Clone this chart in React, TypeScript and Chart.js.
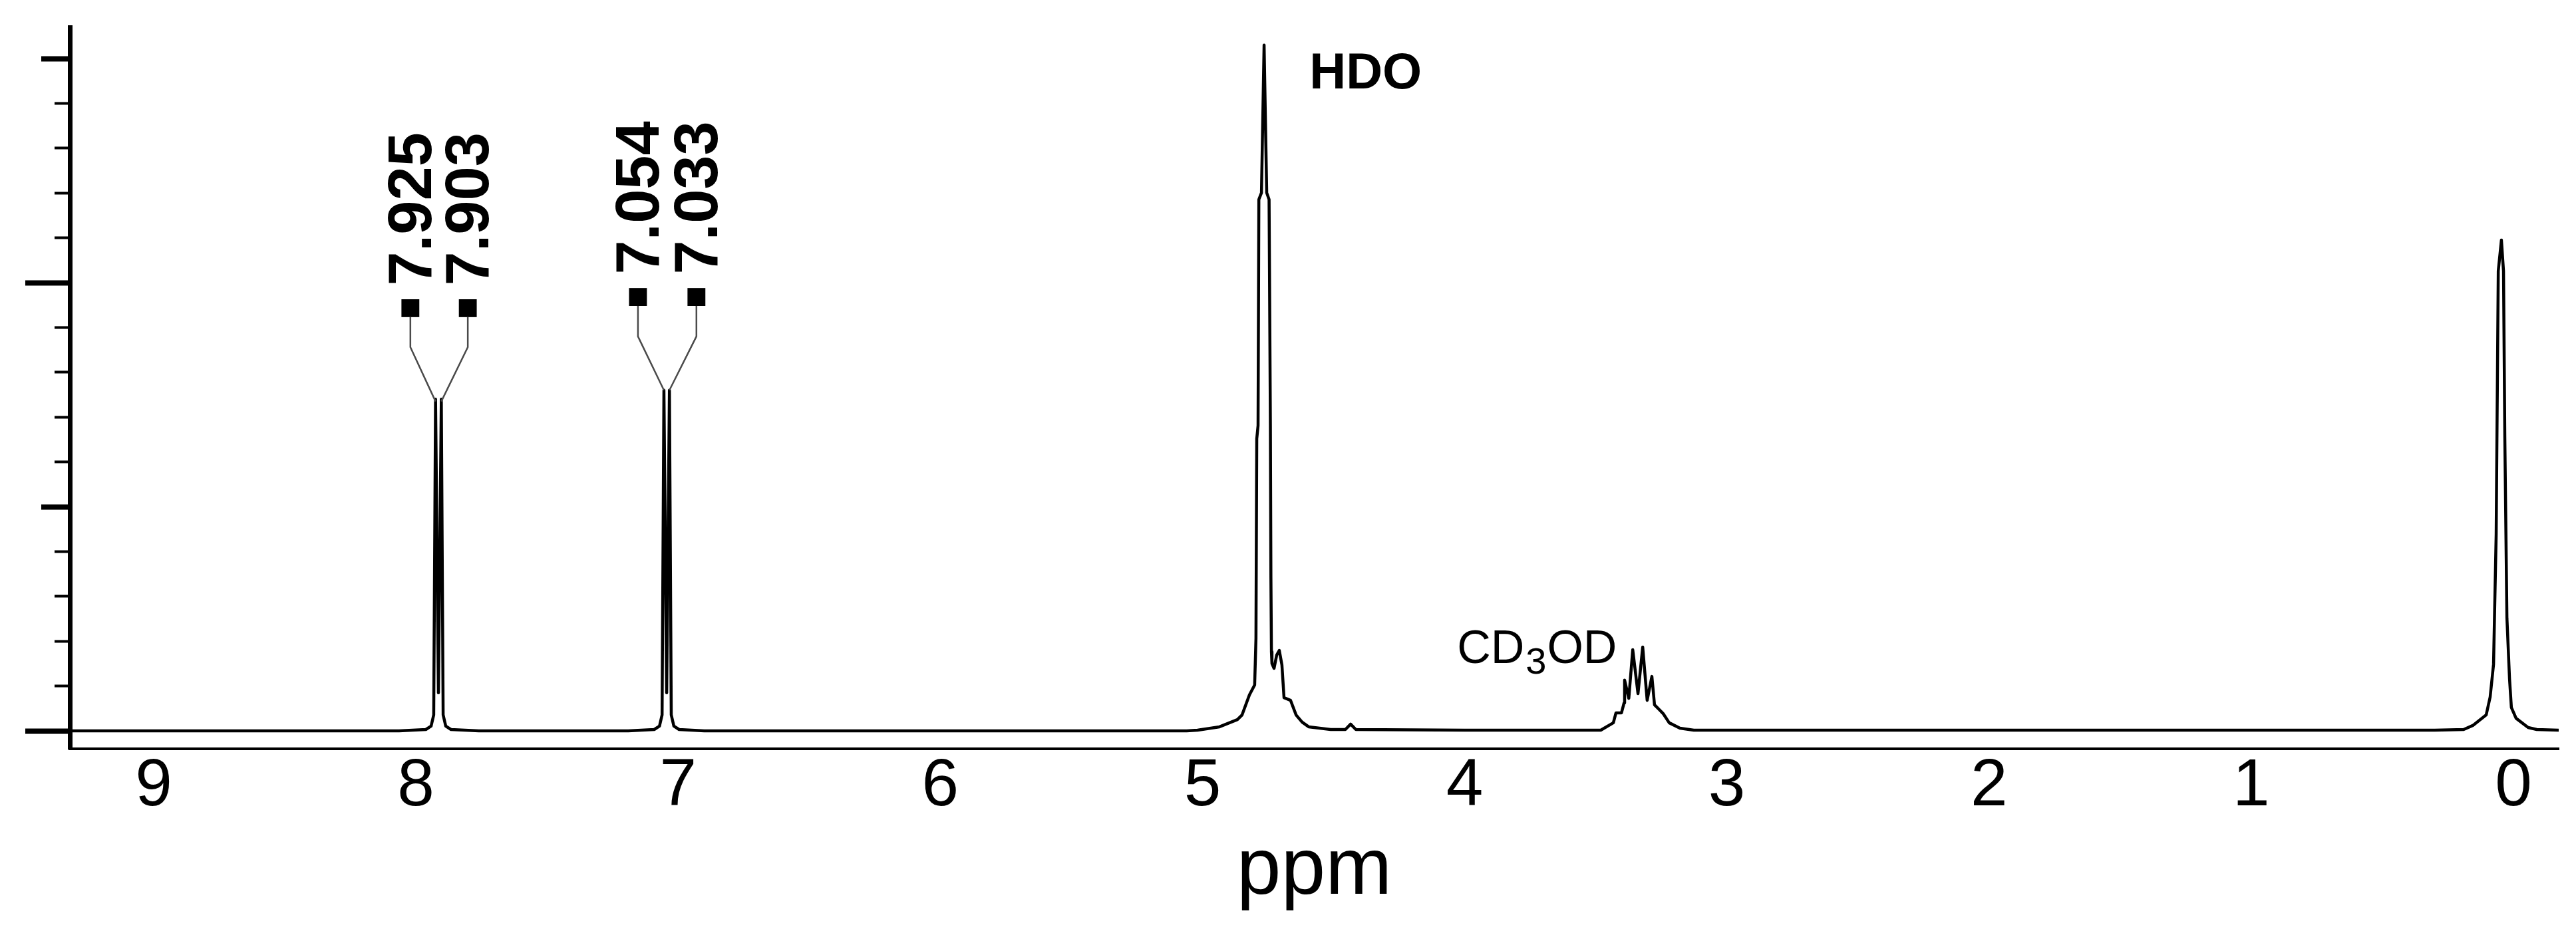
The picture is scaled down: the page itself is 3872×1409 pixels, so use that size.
import React, { useEffect, useRef } from 'react';
import { Chart, registerables } from 'chart.js';

Chart.register(...registerables);

// ---- spectrum (chemical shift in ppm, relative intensity) ----
const specPpm = [
  9.32, 8.064, 7.962, 7.942, 7.932, 7.925, 7.914, 7.903, 7.896, 7.886, 7.866, 7.76,
  7.19, 7.091, 7.071, 7.061, 7.054, 7.0435, 7.033, 7.026, 7.016, 6.996, 6.9,
  5.06, 5.019, 4.935, 4.867, 4.849, 4.821, 4.801, 4.796, 4.793, 4.788, 4.785, 4.775,
  4.765, 4.755, 4.746, 4.741, 4.739, 4.737, 4.735, 4.727, 4.717, 4.707, 4.697,
  4.689, 4.664, 4.643, 4.62, 4.595, 4.511, 4.455, 4.435, 4.415, 4.0,
  3.481, 3.433, 3.423, 3.402, 3.392, 3.39, 3.374, 3.359, 3.339, 3.321, 3.304, 3.286,
  3.276, 3.258, 3.243, 3.22, 3.179, 3.126,
  0.3, 0.19, 0.155, 0.104, 0.089, 0.076, 0.066, 0.058, 0.046, 0.038,
  0.033, 0.025, 0.015, 0.008, -0.01, -0.056, -0.089, -0.18,
];
const specInt = [
  0, 0, 0.006, 0.021, 0.071, 1.48, 0.17, 1.48, 0.071, 0.021, 0.006, 0,
  0, 0.006, 0.021, 0.071, 1.52, 0.17, 1.52, 0.071, 0.021, 0.006, 0,
  0, 0.003, 0.018, 0.05, 0.071, 0.16, 0.205, 0.412, 1.303, 1.362, 2.371, 2.401,
  3.06, 2.401, 2.371, 1.362, 0.68, 0.353, 0.3, 0.279, 0.338, 0.359, 0.294,
  0.148, 0.136, 0.071, 0.039, 0.018, 0.006, 0.006, 0.03, 0.006, 0.003,
  0.003, 0.036, 0.08, 0.08, 0.125, 0.226, 0.145, 0.362, 0.166, 0.374, 0.136, 0.243,
  0.116, 0.095, 0.077, 0.036, 0.012, 0.003,
  0.003, 0.006, 0.024, 0.071, 0.151, 0.297, 0.875, 2.052, 2.19, 2.052,
  1.309, 0.504, 0.231, 0.104, 0.056, 0.015, 0.006, 0.003,
];

// ---- axes ----
const xTickValues = [9, 8, 7, 6, 5, 4, 3, 2, 1, 0];
const yMinorTicks = [0, 0.2, 0.4, 0.6, 0.8, 1, 1.2, 1.4, 1.6, 1.8, 2, 2.2, 2.4, 2.6, 2.8, 3];
const yMajorTicks = [0, 1, 2, 3];
const yLongTicks = [0, 2];
const xTitle = 'ppm';

// ---- peak picking labels ----
const peakLabels = ['7.925', '7.903', '7.054', '7.033'];
const peakPpm = [7.925, 7.903, 7.054, 7.033];
const peakTopInt = [1.47, 1.47, 1.52, 1.52];
const labelPpm = [8.021, 7.802, 7.153, 6.93];
const kinkInt = [1.712, 1.712, 1.76, 1.76];
const stemTopInt = [1.846, 1.846, 1.905, 1.905];
const markerInt = [1.886, 1.886, 1.936, 1.936];

// ---- solvent labels ----
const hdoText = 'HDO';
const hdoPpm = 4.592;
const hdoInt = 2.866;
const cdMain1 = 'CD';
const cdSub = '3';
const cdMain2 = 'OD';
const cdPpm = 4.029;
const cdInt = 0.303;

const FONT = '"Liberation Sans", Arial, Helvetica, sans-serif';

export default function App() {
  const ref = useRef<HTMLCanvasElement | null>(null);

  useEffect(() => {
    const canvas = ref.current;
    if (!canvas) return;

    const spectrum = specPpm.map((p, i) => ({ x: p, y: specInt[i] }));
    const connectors = peakPpm.map((p, i) => ({
      type: 'line' as const,
      data: [
        { x: p, y: peakTopInt[i] },
        { x: labelPpm[i], y: kinkInt[i] },
        { x: labelPpm[i], y: stemTopInt[i] },
      ],
      borderColor: '#4a4a4a',
      borderWidth: 2.5,
      pointRadius: 0,
      tension: 0,
      order: 2,
    }));
    const markers = {
      type: 'line' as const,
      data: labelPpm.map((p, i) => ({ x: p, y: markerInt[i] })),
      showLine: false,
      pointStyle: 'rect' as const,
      pointRadius: 19,
      pointBackgroundColor: '#000',
      pointBorderColor: '#000',
      pointBorderWidth: 0,
      order: 1,
    };

    const annot = {
      id: 'annot',
      afterDatasetsDraw(chart: any) {
        const { ctx, scales } = chart;
        const xs = scales.x;
        const ys = scales.y;
        ctx.save();
        ctx.fillStyle = '#000';
        ctx.textBaseline = 'alphabetic';
        ctx.textAlign = 'left';
        ctx.font = `bold 92px ${FONT}`;
        peakLabels.forEach((t, i) => {
          const px = xs.getPixelForValue(labelPpm[i]) + 31;
          const py = ys.getPixelForValue(markerInt[i]) - 34;
          ctx.save();
          ctx.translate(px, py);
          ctx.rotate(-Math.PI / 2);
          ctx.fillText(t, 0, 0);
          ctx.restore();
        });
        ctx.font = `bold 76px ${FONT}`;
        ctx.fillText(hdoText, xs.getPixelForValue(hdoPpm), ys.getPixelForValue(hdoInt));
        const cx = xs.getPixelForValue(cdPpm);
        const cy = ys.getPixelForValue(cdInt);
        ctx.font = `70px ${FONT}`;
        ctx.fillText(cdMain1, cx, cy);
        const w1 = ctx.measureText(cdMain1).width;
        ctx.font = `56px ${FONT}`;
        ctx.fillText(cdSub, cx + w1 + 2, cy + 16);
        const w2 = ctx.measureText(cdSub).width;
        ctx.font = `70px ${FONT}`;
        ctx.fillText(cdMain2, cx + w1 + 2 + w2 + 1, cy);
        ctx.restore();
      },
    };

    const yRange = { min: -0.0801, max: 3.1395 };

    const chart = new Chart(canvas, {
      type: 'line',
      data: {
        datasets: [
          {
            type: 'line',
            data: spectrum,
            borderColor: '#000',
            borderWidth: 4.5,
            borderJoinStyle: 'round',
            borderCapStyle: 'round',
            pointRadius: 0,
            tension: 0,
            order: 3,
          },
          ...connectors,
          markers,
        ] as any,
      },
      options: {
        responsive: false,
        animation: false,
        devicePixelRatio: 1,
        layout: { padding: { left: 38, top: 41, right: 26, bottom: 0 } },
        plugins: { legend: { display: false }, tooltip: { enabled: false } },
        events: [],
        scales: {
          x: {
            type: 'linear',
            reverse: true,
            min: -0.1725,
            max: 9.3197,
            afterBuildTicks: (s: any) => {
              s.ticks = xTickValues.map((v) => ({ value: v }));
            },
            afterFit: (s: any) => {
              s.height = 283;
            },
            grid: { display: false, drawTicks: false },
            border: { display: true, color: '#000', width: 4 },
            ticks: {
              color: '#000',
              font: { family: FONT, size: 100, lineHeight: 1.15 },
              padding: 0,
              maxRotation: 0,
              autoSkip: false,
              callback: (v: any) => String(v),
            },
            title: {
              display: true,
              text: xTitle,
              color: '#000',
              font: { family: FONT, size: 120, lineHeight: 1.2 },
              padding: { top: 0, bottom: 26 },
            },
          },
          y: {
            type: 'linear',
            position: 'left',
            ...yRange,
            weight: 0,
            afterBuildTicks: (s: any) => {
              s.ticks = yMinorTicks.map((v) => ({ value: v }));
            },
            afterFit: (s: any) => {
              s.width = 23;
            },
            grid: {
              drawOnChartArea: false,
              drawTicks: true,
              tickLength: 23,
              tickColor: '#000',
              tickWidth: (c: any) =>
                c.tick && Math.abs(c.tick.value - Math.round(c.tick.value)) < 1e-6 ? 8 : 4,
            },
            border: { display: true, color: '#000', width: 7 },
            ticks: { display: false },
          },
          y2: {
            type: 'linear',
            position: 'left',
            ...yRange,
            weight: 1,
            afterBuildTicks: (s: any) => {
              s.ticks = yMajorTicks.map((v) => ({ value: v }));
            },
            afterFit: (s: any) => {
              s.width = 20;
            },
            grid: { drawOnChartArea: false, drawTicks: true, tickLength: 20, tickColor: '#000', tickWidth: 8 },
            border: { display: false },
            ticks: { display: false },
          },
          y3: {
            type: 'linear',
            position: 'left',
            ...yRange,
            weight: 2,
            afterBuildTicks: (s: any) => {
              s.ticks = yLongTicks.map((v) => ({ value: v }));
            },
            afterFit: (s: any) => {
              s.width = 24;
            },
            grid: { drawOnChartArea: false, drawTicks: true, tickLength: 24, tickColor: '#000', tickWidth: 8 },
            border: { display: false },
            ticks: { display: false },
          },
        },
      } as any,
      plugins: [annot],
    });

    return () => chart.destroy();
  }, []);

  return (
    <div style={{ position: 'absolute', left: 0, top: 0, width: 3872, height: 1409, background: '#fff' }}>
      <canvas ref={ref} width={3872} height={1409} style={{ display: 'block' }} />
    </div>
  );
}
